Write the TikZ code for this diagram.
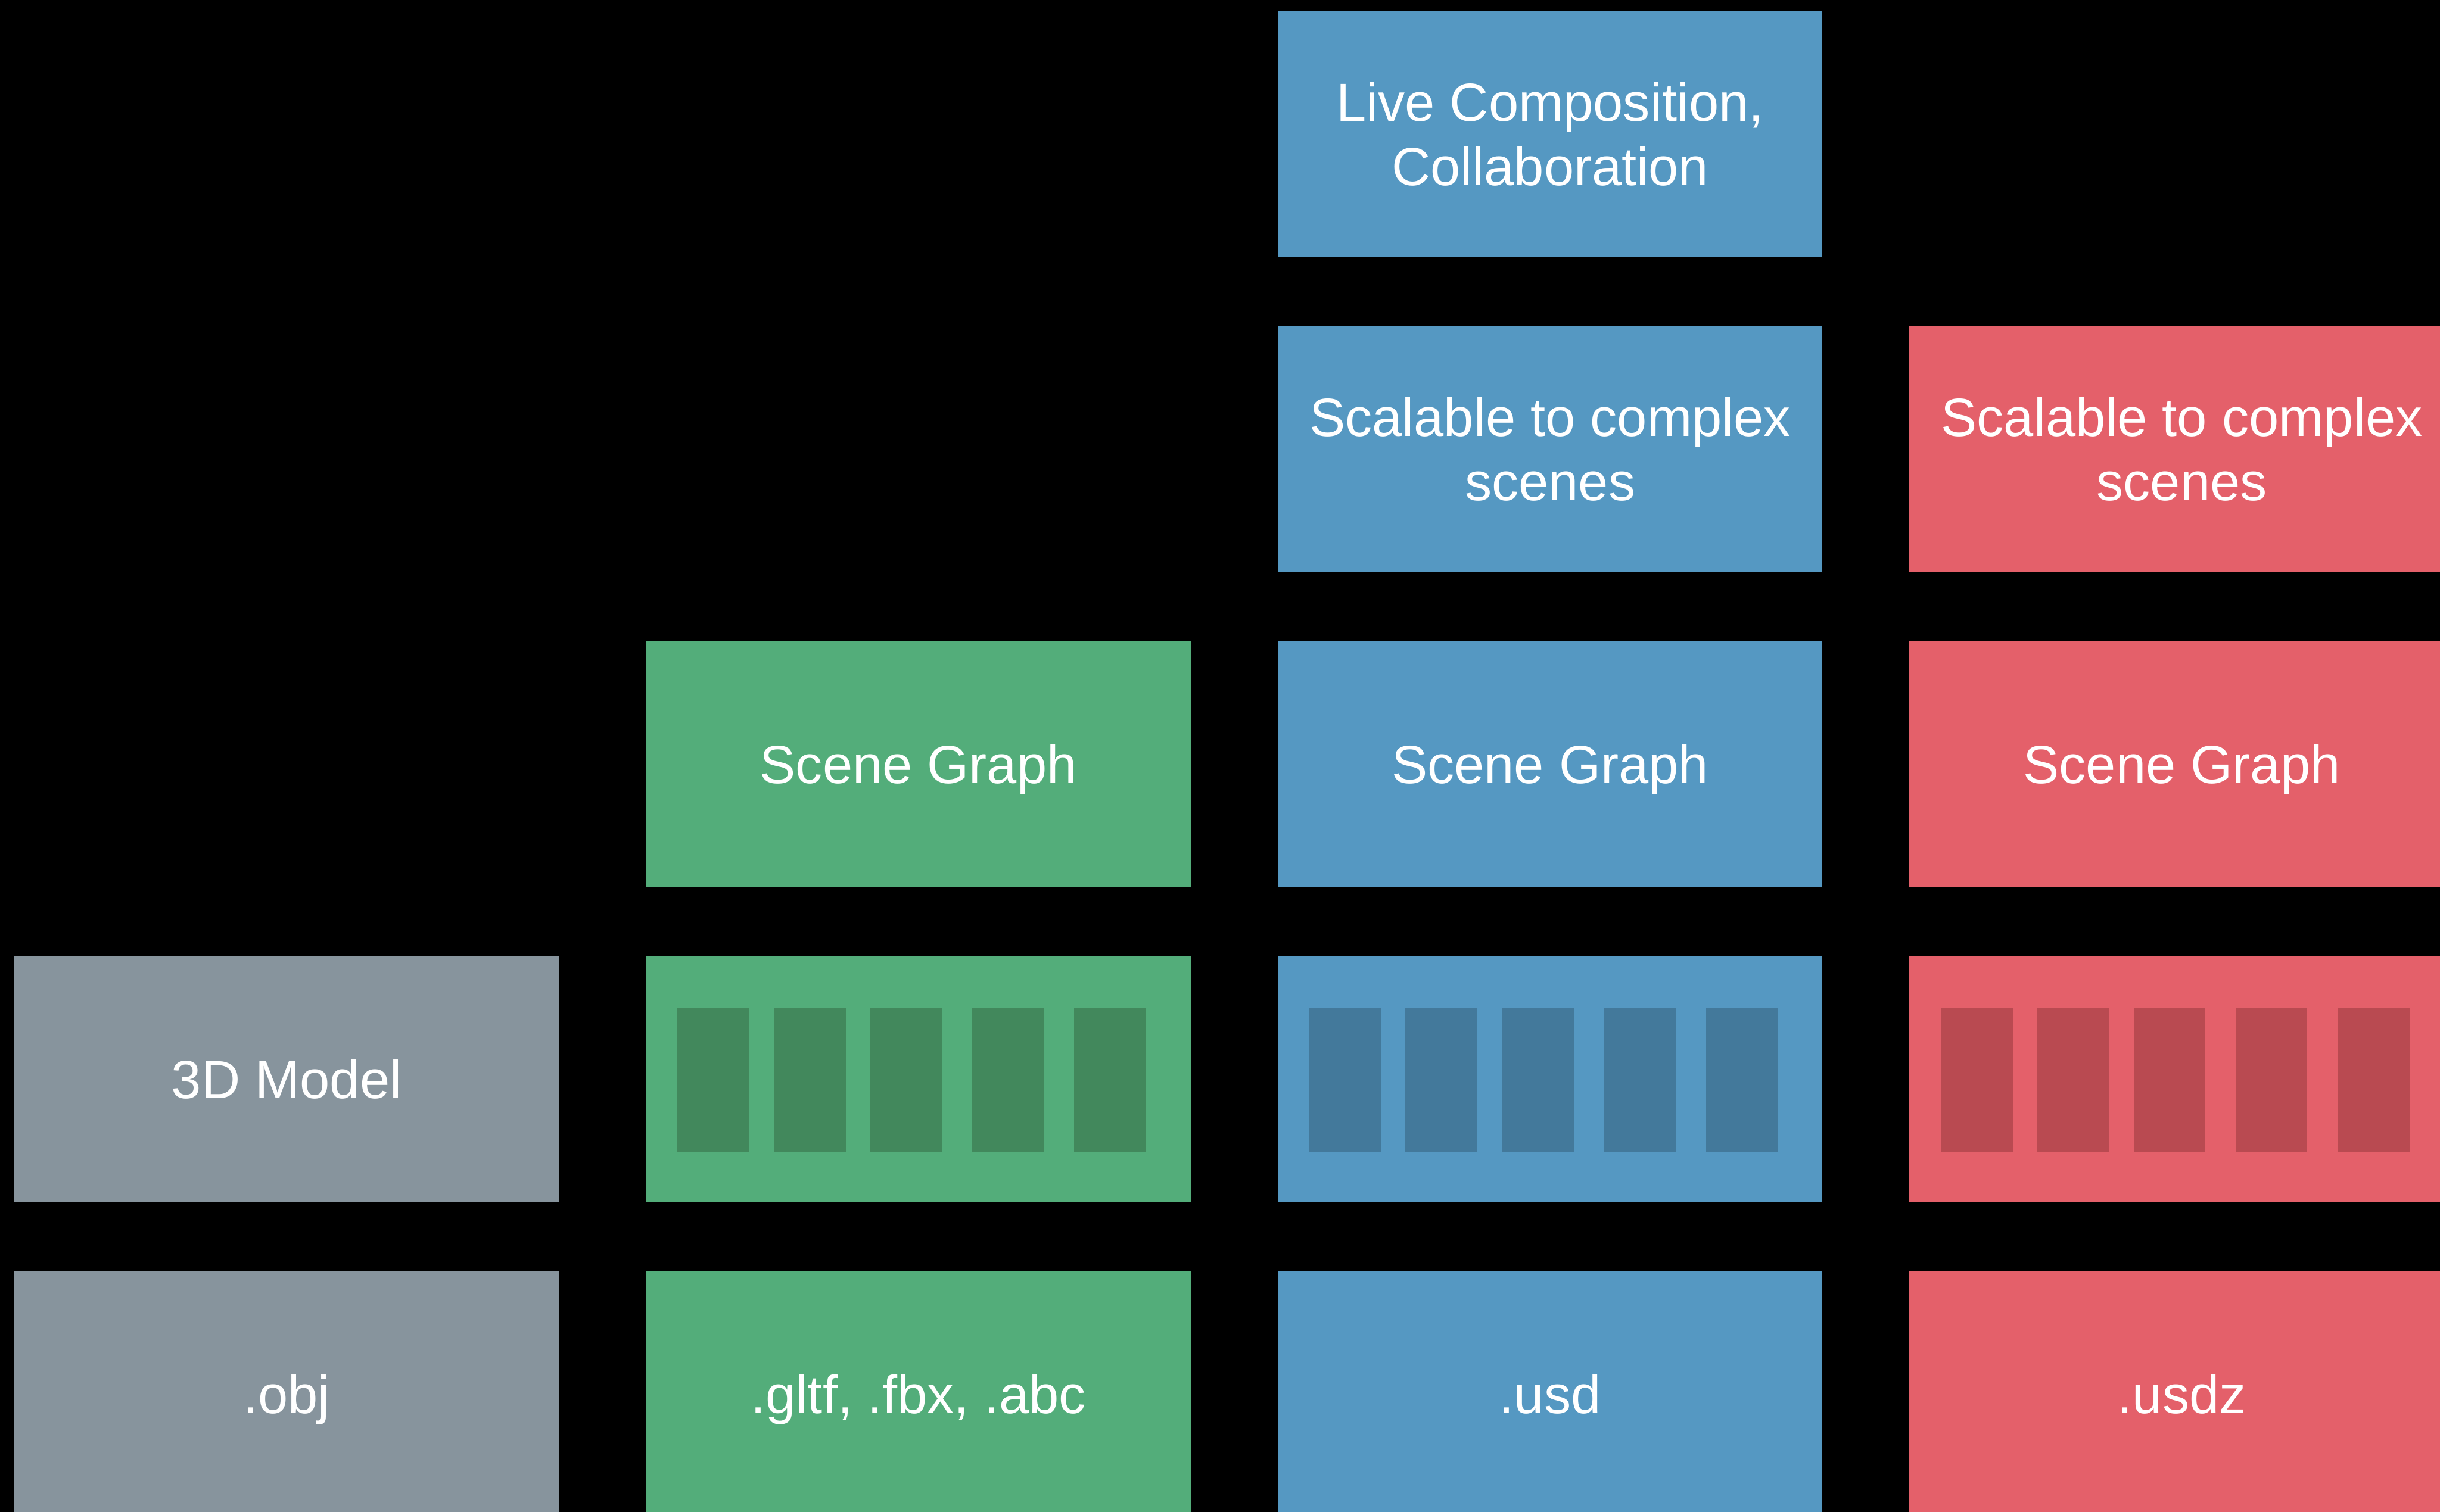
\documentclass[tikz,border=0pt]{standalone}
\usepackage{fontspec}
\setmainfont{Liberation Sans}
\definecolor{cgray}{HTML}{87949D}
\definecolor{cgreen}{HTML}{53AD7A}
\definecolor{cgreenD}{HTML}{42885C}
\definecolor{cblue}{HTML}{5598C2}
\definecolor{cblueD}{HTML}{43799B}
\definecolor{cred}{HTML}{E4606A}
\definecolor{credD}{HTML}{B94A51}
\tikzset{
  box/.style={rectangle, inner sep=0pt, minimum width=16.05cm, minimum height=7.25cm, anchor=north west, fill=#1},
  lbl/.style={anchor=base, inner sep=0pt, text=white, font=\fontsize{45.1pt}{54pt}\selectfont},
}
\begin{document}
\begin{tikzpicture}
\fill[black] (0,0) rectangle (71.90,-44.56);
\useasboundingbox (0,0) rectangle (71.90,-44.56);
\clip (0,0) rectangle (71.90,-44.56);
% columns: 0.415, 19.03, 37.645, 56.26 ; rows: 0.32, 9.605, 18.89, 28.175, 37.46
% row 1
\node[box=cblue] (b13) at (37.645,-0.32) {};
% row 2
\node[box=cblue] (b23) at (37.645,-9.605) {};
\node[box=cred]  (b24) at (56.26,-9.605) {};
% row 3
\node[box=cgreen] (b32) at (19.03,-18.89) {};
\node[box=cblue]  (b33) at (37.645,-18.89) {};
\node[box=cred]   (b34) at (56.26,-18.89) {};
% row 4
\node[box=cgray]  (b41) at (0.415,-28.175) {};
\node[box=cgreen] (b42) at (19.03,-28.175) {};
\node[box=cblue]  (b43) at (37.645,-28.175) {};
\node[box=cred]   (b44) at (56.26,-28.175) {};
% row 5
\node[box=cgray]  (b51) at (0.415,-37.46) {};
\node[box=cgreen] (b52) at (19.03,-37.46) {};
\node[box=cblue]  (b53) at (37.645,-37.46) {};
\node[box=cred]   (b54) at (56.26,-37.46) {};
% bars
\foreach \b/\c in {b42/cgreenD, b43/cblueD, b44/credD}{
  \foreach \o in {0.93,3.77,6.61,9.61,12.62}{
    \fill[\c] ([xshift=\o cm, yshift=-1.53cm]\b.north west) rectangle ++(2.12,-4.24);
  }
}
% labels
\node[lbl] (t13a) at ([yshift=0.38cm]b13.center) {Live Composition,};
\node[lbl] (t13b) at ([yshift=-1.52cm]b13.center) {Collaboration};
\node[lbl] (t23a) at ([yshift=0.38cm]b23.center) {Scalable to complex};
\node[lbl] (t23b) at ([yshift=-1.52cm]b23.center) {scenes};
\node[lbl] (t24a) at ([yshift=0.38cm]b24.center) {Scalable to complex};
\node[lbl] (t24b) at ([yshift=-1.52cm]b24.center) {scenes};
\node[lbl] (t32) at ([yshift=-0.57cm]b32.center) {Scene Graph};
\node[lbl] (t33) at ([yshift=-0.57cm]b33.center) {Scene Graph};
\node[lbl] (t34) at ([yshift=-0.57cm]b34.center) {Scene Graph};
\node[lbl] (t41) at ([yshift=-0.57cm]b41.center) {3D Model};
\node[lbl] (t51) at ([yshift=-0.57cm]b51.center) {.obj};
\node[lbl] (t52) at ([yshift=-0.57cm]b52.center) {.gltf, .fbx, .abc};
\node[lbl] (t53) at ([yshift=-0.57cm]b53.center) {.usd};
\node[lbl] (t54) at ([yshift=-0.57cm]b54.center) {.usdz};
\end{tikzpicture}
\end{document}
